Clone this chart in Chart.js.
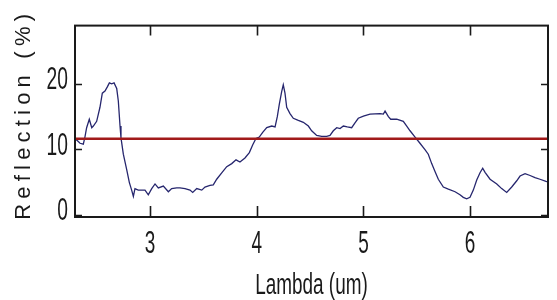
<!DOCTYPE html>
<html>
<head>
<meta charset="utf-8">
<script src="https://cdn.jsdelivr.net/npm/chart.js@4.4.1/dist/chart.umd.min.js"></script>
<style>
html,body{margin:0;padding:0;background:#fff;}
#wrap{width:557px;height:300px;position:relative;}
</style>
</head>
<body>
<div id="wrap"><canvas id="c" width="557" height="300"></canvas></div>
<script>
// ---- data ----
const wavelength = [2.297,2.313,2.344,2.375,2.39,2.406,2.431,2.454,2.469,2.50,2.531,2.553,2.578,2.60,2.619,2.641,2.663,2.688,2.703,2.719,2.728,2.75,2.782,2.806,2.828,2.844,2.859,2.89,2.922,2.953,2.984,3.016,3.047,3.078,3.125,3.172,3.203,3.25,3.281,3.328,3.375,3.40,3.438,3.485,3.515,3.562,3.593,3.625,3.672,3.719,3.766,3.806,3.843,3.89,3.931,3.963,3.993,4.024,4.056,4.094,4.141,4.172,4.193,4.212,4.234,4.249,4.265,4.281,4.312,4.343,4.39,4.437,4.484,4.515,4.562,4.609,4.656,4.687,4.718,4.75,4.781,4.812,4.849,4.89,4.921,4.952,5.0,5.062,5.156,5.187,5.203,5.234,5.256,5.312,5.374,5.406,5.437,5.484,5.53,5.577,5.608,5.64,5.671,5.702,5.749,5.796,5.859,5.905,5.936,5.968,5.999,6.03,6.062,6.093,6.118,6.14,6.187,6.25,6.296,6.343,6.39,6.437,6.468,6.515,6.562,6.608,6.655,6.711,6.73];
const reflection = [11.6,11.40,10.92,10.78,11.87,13.30,14.59,13.30,13.55,14.27,16.42,18.57,18.90,19.53,20.14,20.00,20.14,19.28,17.38,13.55,11.73,9.25,6.85,4.95,3.76,2.80,3.99,3.76,3.76,3.76,3.04,3.99,4.70,4.09,4.37,3.51,3.99,4.09,4.09,3.99,3.76,3.41,3.99,3.76,4.23,4.47,4.56,5.42,6.38,7.34,7.81,8.39,8.06,8.67,9.49,10.68,11.64,11.87,12.59,13.30,13.55,13.41,14.98,16.89,18.81,19.86,18.57,16.42,15.46,14.74,14.41,14.12,13.55,12.83,12.11,11.97,11.97,12.11,12.83,13.30,13.16,13.55,13.41,13.30,14.02,14.74,15.08,15.37,15.46,15.37,15.84,14.98,14.59,14.59,14.27,13.55,12.83,11.87,10.92,9.96,9.25,7.81,6.62,5.42,4.23,3.90,3.51,3.04,2.65,2.44,2.65,3.76,5.30,6.42,7.10,6.48,5.42,4.70,3.99,3.41,4.23,5.19,5.91,6.28,5.99,5.66,5.42,5.09,5.0];
const meanX = [2.297, 6.73];
const meanY = [11.6, 11.6];
const xTicks = [3, 4, 5, 6];
const yTicks = [0, 10, 20];
const xTitle = 'Lambda (um)';
const yTitle = 'Reflection (%)';

const spectrum = wavelength.map((x, i) => ({x: x, y: reflection[i]}));
const meanLine = meanX.map((x, i) => ({x: x, y: meanY[i]}));

const FONT = "'Liberation Sans', Arial, sans-serif";

// The reference's lettering is tall and narrow; stretch the library's own text drawing.
function stretch(scale, name, fn) {
  const orig = scale[name];
  scale[name] = function () {
    const c = this.ctx; c.save(); fn.call(this, c); orig.apply(this, arguments); c.restore();
  };
}

const frame = {
  id: 'frame',
  beforeDraw(chart) {
    const {x, y} = chart.scales;
    if (y && !y._patched) {
      stretch(y, 'drawTitle', function (c) { c.letterSpacing = '5.2px'; c.translate(0, -7); });
      stretch(y, 'drawLabels', function (c) {
        const ax = this.right - this.options.ticks.padding;
        c.translate(ax, -3); c.scale(0.62, 1); c.translate(-ax, 0);
      });
      y._patched = true;
    }
    if (x && !x._patched) {
      stretch(x, 'drawLabels', function (c) {
        const cy = 245;
        c.translate(0, cy); c.scale(1, 1.65); c.translate(0, -cy);
      });
      stretch(x, 'drawTitle', function (c) {
        const cx = (this.left + this.right) / 2, cy = 285;
        c.translate(cx, cy); c.scale(0.86, 1.35); c.translate(-cx, -cy);
      });
      x._patched = true;
    }
  },
  afterDraw(chart) {
    const {ctx, chartArea: a, scales: {x, y}} = chart;
    ctx.save();
    ctx.strokeStyle = '#1a1a1a';
    ctx.lineWidth = 2;
    ctx.strokeRect(a.left, a.top, a.right - a.left, a.bottom - a.top);
    ctx.lineWidth = 1.6;
    ctx.beginPath();
    xTicks.forEach(v => {
      const px = Math.round(x.getPixelForValue(v)) + 0.5;
      ctx.moveTo(px, a.bottom); ctx.lineTo(px, a.bottom - 11);
      ctx.moveTo(px, a.top); ctx.lineTo(px, a.top + 10);
    });
    yTicks.forEach(v => {
      const py = Math.round(y.getPixelForValue(v)) + 0.5;
      ctx.moveTo(a.left, py); ctx.lineTo(a.left + 7, py);
      ctx.moveTo(a.right, py); ctx.lineTo(a.right - 7, py);
    });
    ctx.stroke();
    ctx.restore();
  }
};

new Chart(document.getElementById('c'), {
  type: 'scatter',
  data: {
    datasets: [
      {data: spectrum, showLine: true, borderColor: '#26266e', borderWidth: 1.3, pointRadius: 0, tension: 0, order: 2},
      {data: meanLine, showLine: true, borderColor: '#a11a1a', borderWidth: 2.5, pointRadius: 0, order: 1}
    ]
  },
  options: {
    responsive: false,
    animation: false,
    layout: {padding: {top: 13, right: 9, left: 0, bottom: 0}},
    plugins: {legend: {display: false}, tooltip: {enabled: false}},
    scales: {
      x: {
        type: 'linear', min: 2.297, max: 6.73,
        afterBuildTicks: s => { s.ticks = xTicks.map(v => ({value: v})); },
        afterFit: s => { s.height = 83; },
        grid: {display: false, drawTicks: false},
        border: {display: false},
        ticks: {padding: 16, color: '#1a1a1a', font: {family: FONT, size: 19}, maxRotation: 0},
        title: {display: true, text: xTitle, color: '#1a1a1a', padding: {top: 0, bottom: 1}, font: {family: FONT, size: 22}}
      },
      y: {
        type: 'linear', min: -0.35, max: 28.9,
        afterBuildTicks: s => { s.ticks = yTicks.map(v => ({value: v})); },
        afterFit: s => { s.width = 75; },
        grid: {display: false, drawTicks: false},
        border: {display: false},
        ticks: {padding: 7, color: '#1a1a1a', font: {family: FONT, size: 31}},
        title: {display: true, text: yTitle, color: '#1a1a1a', padding: {top: 11, bottom: 0}, font: {family: FONT, size: 22}}
      }
    }
  },
  plugins: [frame]
});
</script>
</body>
</html>
